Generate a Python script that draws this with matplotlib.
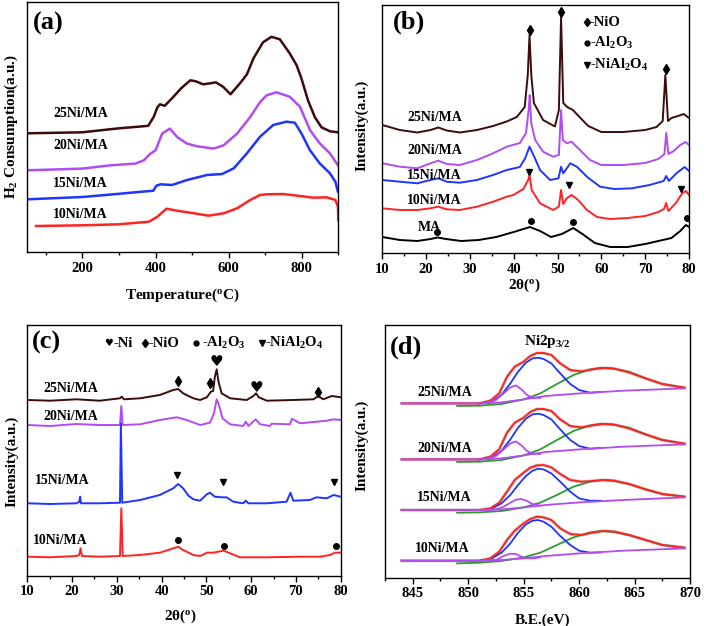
import matplotlib
matplotlib.use("Agg")
import matplotlib.pyplot as plt
from matplotlib.ticker import MultipleLocator

plt.rcParams['font.family'] = ['Liberation Serif', 'DejaVu Sans']
plt.rcParams['font.weight'] = 'bold'
plt.rcParams['axes.labelweight'] = 'bold'
plt.rcParams['mathtext.fontset'] = 'custom'
plt.rcParams['mathtext.rm'] = 'Liberation Serif:bold'
plt.rcParams['mathtext.it'] = 'Liberation Serif:bold'
plt.rcParams['mathtext.bf'] = 'Liberation Serif:bold'
plt.rcParams['mathtext.default'] = 'rm'

BROWN = '#3d0b0b'
PURPLE = '#b04cf2'
BLUE = '#1f35ff'
RED = '#ff2424'
GREEN = '#2e9a2e'

samples = ['25Ni/MA', '20Ni/MA', '15Ni/MA', '10Ni/MA']

# ---------------- (a) H2-TPR ----------------
tpr_25_x = [50, 200, 300, 350, 380, 395, 405, 412, 425, 445, 470, 495, 510, 530, 550, 565, 585, 605, 631, 650,
            668, 694, 717, 740, 767, 786, 799, 817, 836, 854, 877, 899]
tpr_25_y = [119, 120, 124, 125.5, 126.5, 135.5, 145, 148, 146.5, 154, 164, 172, 171, 168, 169, 170, 165.5, 158, 169,
            178, 194, 210, 215.5, 213, 199, 187, 174, 152, 135, 125, 121, 120]
tpr_20_x = [50, 200, 277, 345, 368, 386, 400, 418, 439, 459, 486, 514, 559, 586, 623, 659, 686, 704, 731, 767, 795,
            823, 849, 877, 899]
tpr_20_y = [82, 83.7, 87, 88.7, 92, 98.7, 102, 118.7, 123.7, 115.3, 108.7, 106, 103.7, 107, 118.7, 135.3, 150.3, 157,
            160, 155.6, 145.6, 122, 109, 99, 87]
tpr_15_x = [50, 200, 300, 332, 394, 402, 414, 445, 486, 541, 582, 614, 650, 686, 722, 758, 781, 799, 822, 849, 877,
            892, 899]
tpr_15_y = [53, 55.3, 58.5, 59.6, 61.6, 66.6, 68, 67.3, 72.3, 77.3, 78.3, 84, 99, 115.6, 127.3, 130.6, 129.6, 119,
            102.3, 89, 79, 70.6, 60.6]
tpr_10_x = [73, 200, 300, 382, 405, 430, 459, 505, 545, 586, 623, 659, 686, 704, 749, 795, 831, 868, 892, 899, 900]
tpr_10_y = [26.3, 27, 28, 30.6, 35.6, 43.6, 41.6, 39, 36.6, 39, 44, 52.3, 57.3, 58, 58.3, 56.3, 54.6, 55, 52.3,
            45.6, 32]
tpr_label_y = [139, 107, 69, 38]

# ---------------- (b) XRD calcined ----------------
xb_25 = [10, 14, 18, 21, 22.8, 24.7, 27.7, 31.6, 35.3, 38.4, 40.7, 42.5, 43.2, 43.6, 44.0, 44.6, 46.7, 49.4, 50.3,
         50.8, 51.3, 52.2, 53.5, 55, 57, 60, 65, 70, 72.6, 74.0, 74.6, 75.2, 76, 77.5, 78.8, 80]
yb_25 = [130, 125, 122.5, 125, 127.5, 124.5, 122.5, 125, 129, 133.5, 138, 148, 180, 220, 180, 152, 135, 128.5, 145,
         237.5, 152, 148, 145, 138, 129, 123, 123, 125, 128, 134, 180, 134, 137, 139, 141, 137]
xb_20 = [10, 14, 18, 21, 22.8, 24.7, 27.7, 31.6, 35.3, 38.4, 41.4, 42.8, 43.4, 43.65, 44.0, 44.9, 46.7, 49.0, 50.3,
         50.8, 51.2, 52.1, 53.2, 55.1, 57.4, 60, 65, 70, 73, 74.4, 74.8, 75.3, 76.5, 78, 79.2, 80]
yb_20 = [91.7, 88.3, 86.7, 91.7, 94.3, 91, 90, 95, 101.7, 108.3, 112, 122, 145, 160, 131.7, 115, 103.3, 98.3, 100,
         145, 115, 111.7, 113.3, 105, 95, 90, 90, 92, 96, 101, 122, 101, 104, 110, 113, 110]
xb_15 = [10, 14, 18, 21, 22.8, 24.7, 27.7, 31.6, 35.3, 38.4, 41.4, 42.6, 43.6, 44.5, 46.0, 48.3, 50.2, 50.8, 51.3,
         52.9, 54.4, 56.7, 59.7, 63, 67, 71, 74.2, 74.8, 75.4, 77.2, 79, 80]
yb_15 = [75, 73.3, 71.7, 75, 76.7, 73.3, 72.3, 75, 80, 85, 88, 96.7, 108.3, 100, 85, 75, 76.7, 88.3, 81.7, 91.7,
         88.3, 78.3, 68.3, 66, 66.7, 70, 74, 79, 74, 82, 88, 84]
xb_10 = [10, 14, 18, 21, 22.8, 24.7, 27.7, 31.6, 35.3, 38.4, 39.9, 42.2, 43.3, 43.6, 44.1, 46.0, 49.0, 50.3, 50.8,
         51.3, 52.1, 53.2, 54.7, 56.7, 59, 62, 66, 70, 73, 74.3, 74.8, 75.3, 77, 78.5, 79.3, 80]
yb_10 = [46.7, 45, 45, 46.7, 48.3, 45.7, 45, 48.3, 53.3, 58.3, 60, 66, 75, 80, 65, 51.7, 45, 48.3, 65, 51, 56.7, 60,
         55, 45, 38, 36, 37, 39, 43, 46, 52, 44, 52, 62, 64, 60]
xb_ma = [10, 14, 18, 21, 22.7, 24.5, 28, 32, 36, 40, 43.7, 46, 48.5, 51, 53.6, 56, 58.5, 62, 66, 70, 73, 76, 78,
         79.3, 80]
yb_ma = [18, 15, 14, 16, 17.5, 16, 14, 15, 18, 23, 28, 24, 18, 21, 27, 20, 12, 8, 8, 11, 14, 17, 24, 30, 28]
xrd_b_label_y = [138, 105, 80, 55, 28]
nio_b = ([43.6, 50.8, 74.8], [225, 243.3, 185.7])
spinel_b = ([43.4, 52.6, 78.2], [83.3, 70, 66])
alumina_b = ([22.5, 43.9, 53.5, 79.5], [23, 34.3, 32.7, 36.7])

# ---------------- (c) XRD reduced ----------------
xc_25 = [10, 15.1, 21.0, 26.2, 30.7, 31.1, 31.6, 35.2, 39.6, 42.6, 43.7, 44.8, 46.0, 47.1, 48.6, 50.1, 51.0, 51.5,
         51.9, 52.3, 52.7, 53.4, 55.3, 59.0, 60.5, 61.1, 61.7, 63.5, 69.4, 73.9, 75.0, 76.1, 78.0, 80]
yc_25 = [175.7, 175, 176.4, 175, 177.4, 179, 176.4, 177.4, 180.7, 185.7, 186.7, 182.4, 179.7, 177.4, 175.7, 178.4,
         184, 184.7, 199, 206.4, 194, 182.4, 177.4, 175.7, 179.7, 182.4, 178.4, 175, 175.7, 176.4, 179.7, 176.4,
         179.7, 178.4]
xc_20 = [10, 15.1, 21.0, 26.2, 30.7, 31.0, 31.3, 35.2, 39.6, 43.4, 45.6, 48.6, 50.8, 51.7, 52.3, 52.8, 53.6, 55.3,
         58.2, 58.8, 59.4, 61.0, 62.0, 64.2, 64.6, 68.7, 69.1, 70.9, 76.9, 78.4, 80]
yc_20 = [150.7, 149.7, 151.7, 150.7, 150.7, 169.7, 150.7, 151.4, 155.7, 158.4, 155.7, 150.7, 153, 162.4, 176.4, 170.7,
         157.4, 151.4, 149.7, 154, 149.7, 156.4, 151.4, 149.7, 152, 151.4, 157, 152.4, 155, 156.4, 155.7]
xc_15 = [10, 15.1, 21.0, 21.6, 21.8, 22.0, 26.2, 30.7, 30.9, 31.2, 35.2, 39.6, 42.6, 43.7, 44.8, 46.0, 47.1, 48.6,
         50.1, 50.8, 51.9, 53.4, 54.5, 56.0, 58.2, 58.8, 59.4, 63.5, 67.9, 68.8, 69.4, 73.1, 74.6, 76.9, 78.4, 80]
yc_15 = [72.4, 71.7, 72.4, 74, 79, 72.4, 72.4, 73, 152.4, 73, 75.7, 80.7, 87.4, 91.7, 87.4, 80, 76.4, 75, 81.4, 83,
         79, 78.4, 78.4, 74, 72.4, 75, 72.4, 72.4, 74, 83, 75, 75.7, 78.4, 77.4, 80.7, 79]
xc_10 = [10, 15.1, 21.0, 21.6, 21.9, 22.2, 26.2, 30.7, 31.0, 31.3, 35.2, 39.6, 42.6, 43.7, 44.8, 47.1, 48.6, 50.1,
         51.5, 53.8, 55.3, 57.5, 63.5, 70.9, 75.4, 77.6, 78.7, 80]
yc_10 = [19, 18.4, 19.7, 20.7, 27.4, 19.7, 19, 19.7, 67.4, 19.7, 20.7, 23, 27.4, 29, 25.7, 20.7, 19.7, 23, 23, 25,
         22.4, 18.4, 18.4, 19, 19, 20.7, 23, 23]
xrd_c_label_x = [13.5, 13.5, 11.7, 11.3]
xrd_c_label_y = [186.7, 159.7, 95.7, 35.7]
nio_c = ([43.7, 50.8, 74.9], [195, 193, 184])
ni_c = ([52.3, 61.2], [214, 188.4])
spinel_c = ([43.4, 53.6, 78.4], [100.7, 93.4, 94])
alumina_c = ([43.6, 53.9, 78.9], [35.7, 29.7, 29.7])

# ---------------- (d) XPS Ni2p3/2 ----------------
xs_base = [844, 851, 853, 855, 857, 860, 864, 869.5]
xs_small = [851.5, 852.5, 853.2, 853.8, 854.3, 854.8, 855.3, 855.8, 856.5]
xs_blue = [851, 852, 853, 853.8, 854.5, 855.2, 855.8, 856.3, 856.8, 857.5, 858.3, 859.2, 860, 861, 862]
xs_green = [849, 851, 853, 855, 856.5, 858, 859.5, 861, 862, 863, 864.5, 866, 867.5, 869.5]
xs_env = [844, 851, 852, 852.8, 853.5, 854.2, 855, 855.6, 856.2, 856.8, 857.5, 858.3, 859.2, 860.2, 861.2, 862.2,
          863.2, 864.5, 866, 867.5, 869.5]

xps_base = {
    '25Ni/MA': [174.3, 174.3, 175.3, 178.3, 181.7, 184.3, 187, 189.3],
    '20Ni/MA': [118.3, 118.3, 119.3, 122.3, 125.7, 128.3, 131, 133.3],
    '15Ni/MA': [67.7, 67.7, 68.3, 70.3, 72.7, 75.3, 77.7, 80.3],
    '10Ni/MA': [17, 17, 17.7, 19.3, 21.7, 24.3, 27, 29.3],
}
xps_small = {
    '25Ni/MA': [174.3, 177.7, 184.3, 190.3, 192.3, 188.3, 182.7, 180, 179.7],
    '20Ni/MA': [118.3, 121.7, 128.3, 134.3, 136.3, 132.3, 126.7, 124, 123.7],
    '15Ni/MA': [67.7, 68.3, 71, 75, 78, 78.7, 76.7, 73.7, 72],
    '10Ni/MA': [17, 17.7, 21.7, 24, 23.7, 21, 19.3, 19.3, 20.3],
}
xps_blue = {
    '25Ni/MA': [174.3, 175, 182.7, 194.3, 206, 215, 219.3, 220, 218.7, 214.3, 204.3, 193.7, 187.7, 185, 185.7],
    '20Ni/MA': [118.3, 119, 126.7, 138.3, 150, 159, 163.3, 164, 162.7, 158.3, 148.3, 137.7, 131.7, 129, 129.7],
    '15Ni/MA': [67.7, 68.3, 74.3, 82.7, 92.7, 101.7, 107, 109, 108.3, 104.3, 96, 86, 79.3, 77, 77],
    '10Ni/MA': [17, 18.3, 25, 34.3, 45, 53.3, 57, 57.7, 56, 51, 41.7, 32.7, 27, 25, 25.3],
}
xps_green = {
    '25Ni/MA': [171.7, 172, 173.7, 178.3, 184.3, 193.7, 202.7, 208.3, 210, 209.3, 206, 199.3, 193.7, 190],
    '20Ni/MA': [115.7, 116, 117.7, 122.3, 128.3, 137.7, 146.7, 152.3, 154, 153.3, 150, 143.3, 137.7, 134],
    '15Ni/MA': [65, 65.3, 66.7, 70.3, 75, 82.7, 91, 96, 97.7, 97, 93.7, 88.3, 83.7, 81],
    '10Ni/MA': [14.3, 15, 16.7, 20.3, 25, 32.7, 40.3, 45.3, 46.7, 46, 42.7, 37.7, 32.7, 30],
}
xps_env = {
    '25Ni/MA': [174.3, 174.3, 177, 184.3, 201, 211, 216, 221.7, 224.7, 224.7, 222.7, 214.3, 207.7, 206.3, 208.3,
                209.7, 209, 205.3, 199.3, 193.7, 190],
    '20Ni/MA': [118.3, 118.3, 121, 128.3, 145, 155, 160, 165.7, 168.7, 168.7, 166.7, 158.3, 151.7, 150.3, 152.3,
                153.7, 153, 149.3, 143.3, 137.7, 134],
    '15Ni/MA': [67.7, 67.7, 69.3, 75, 86, 97.7, 105, 110, 112.3, 112.7, 110.3, 103.7, 97.7, 96, 96.7, 97.7, 97,
                93.7, 88.3, 83.7, 81],
    '10Ni/MA': [17, 17, 19.3, 26, 37.7, 47, 54.3, 58.7, 61, 60.3, 57.7, 49.3, 43.7, 42.7, 45, 46.7, 46, 42.7, 37.7,
                32.7, 30],
}
xps_label_x = [845.4, 845.4, 845.4, 845.2]
xps_label_y = [185.7, 129.7, 80.7, 28.7]

W, H = 709, 626
fig = plt.figure(figsize=(W / 100, H / 100), dpi=100)


def box(l, t, r, b):
    return [l / W, 1 - b / H, (r - l) / W, (b - t) / H]


def style(ax, xlim, ylim, major, minor):
    ax.set_xlim(*xlim)
    ax.set_ylim(*ylim)
    ax.set_yticks([])
    ax.xaxis.set_major_locator(MultipleLocator(major))
    ax.xaxis.set_minor_locator(MultipleLocator(minor))
    ax.tick_params(axis='x', which='major', direction='out', length=4, width=1, labelsize=10.5, pad=3)
    ax.tick_params(axis='x', which='minor', direction='out', length=2.5, width=1)
    for lab in ax.get_xticklabels():
        lab.set_fontweight('bold')
    for s in ax.spines.values():
        s.set_linewidth(1)


def labels(ax, xl, yl, xpos, ypos):
    ax.set_xlabel(xl, fontsize=11)
    ax.set_ylabel(yl, fontsize=11)
    ax.xaxis.set_label_coords(*xpos)
    ax.xaxis.label.set_verticalalignment('center')
    ax.yaxis.set_label_coords(*ypos)
    ax.yaxis.label.set_verticalalignment('center')


# (a)
ax = fig.add_axes(box(27.3, 1.7, 338.3, 252.3))
for x, y, c in [(tpr_25_x, tpr_25_y, BROWN), (tpr_20_x, tpr_20_y, PURPLE),
                (tpr_15_x, tpr_15_y, BLUE), (tpr_10_x, tpr_10_y, RED)]:
    ax.plot(x, y, color=c, lw=1.8)
for s, y in zip(samples, tpr_label_y):
    ax.text(120, y, s, fontsize=10, ha='left', va='center')
style(ax, (49, 900), (0, 250.6), 200, 100)
labels(ax, 'Temperature($^{o}$C)', 'H$_2$ Consumption(a.u.)', (0.5, -0.17), (-0.05, 0.5))
ax.text(0.018, 0.915, '(a)', transform=ax.transAxes, fontsize=19, ha='left', va='center')

# (b)
ax = fig.add_axes(box(382.3, 4.7, 689, 253.3))
for x, y, c in [(xb_25, yb_25, BROWN), (xb_20, yb_20, PURPLE), (xb_15, yb_15, BLUE),
                (xb_10, yb_10, RED), (xb_ma, yb_ma, 'black')]:
    ax.plot(x, y, color=c, lw=1.4)
for s, y in zip(samples + ['MA'], xrd_b_label_y):
    ax.text(18.1 if s == 'MA' else 15.7, y, s, fontsize=10, ha='left', va='center')
ax.plot(*nio_b, 'd', color='black', ms=5)
ax.plot(*spinel_b, 'v', color='black', ms=5)
ax.plot(*alumina_b, 'o', color='black', ms=4)
leg_b = [('d', 4.5, 233, '-NiO'), ('o', 3.5, 212, '-Al$_2$O$_3$'), ('v', 5, 190, '-NiAl$_2$O$_4$')]
for m, ms, y, t in leg_b:
    ax.plot([56.7], [y], m, color='black', ms=ms)
    ax.text(57.4, y, t, fontsize=10.5, ha='left', va='center')
style(ax, (10, 80), (1.7, 250.3), 10, 5)
labels(ax, '2θ($^{o}$)', 'Intensity(a.u.)', (0.462, -0.128), (-0.066, 0.516))
ax.text(0.035, 0.93, '(b)', transform=ax.transAxes, fontsize=19, ha='left', va='center')

# (c)
ax = fig.add_axes(box(27.3, 325, 340.7, 575.7))
for x, y, c in [(xc_25, yc_25, BROWN), (xc_20, yc_20, PURPLE), (xc_15, yc_15, BLUE), (xc_10, yc_10, RED)]:
    ax.plot(x, y, color=c, lw=1.4)
for s, x, y in zip(samples, xrd_c_label_x, xrd_c_label_y):
    ax.text(x, y, s, fontsize=10, ha='left', va='center')
ax.plot(*nio_c, 'd', color='black', ms=5)
ax.plot(*spinel_c, 'v', color='black', ms=5)
ax.plot(*alumina_c, 'o', color='black', ms=4)
for x, y in zip(*ni_c):
    ax.text(x, y, '♥', family='DejaVu Sans', fontsize=11, ha='center', va='center')
ax.text(28.2, 232.4, '♥', family='DejaVu Sans', fontsize=7, ha='center', va='center')
ax.text(29.3, 232.4, '-Ni', fontsize=10.5, ha='left', va='center')
ax.plot([36.3], [232.4], 'd', color='black', ms=4.5)
ax.text(37.0, 232.4, '-NiO', fontsize=10.5, ha='left', va='center')
ax.plot([47.7], [232.4], 'o', color='black', ms=3.5)
ax.text(49.0, 232.4, '-Al$_2$O$_3$', fontsize=10.5, ha='left', va='center')
ax.plot([62.4], [232.4], 'v', color='black', ms=5)
ax.text(63.1, 232.4, '-NiAl$_2$O$_4$', fontsize=10.5, ha='left', va='center')
style(ax, (10, 80), (0, 250.7), 10, 5)
labels(ax, '2θ($^{o}$)', 'Intensity(a.u.)', (0.487, -0.164), (-0.049, 0.455))
ax.text(0.015, 0.93, '(c)', transform=ax.transAxes, fontsize=19, ha='left', va='center')

# (d)
ax = fig.add_axes(box(385, 325, 690, 577.7))
for s in samples:
    ax.plot(xs_env, xps_env[s], color='#cfcfcf', lw=2.4)
    ax.plot(xs_green, xps_green[s], color=GREEN, lw=1.3)
    ax.plot(xs_blue, xps_blue[s], color=BLUE, lw=1.3)
    ax.plot(xs_env, xps_env[s], color=RED, lw=1.4)
    ax.plot(xs_small, xps_small[s], color=PURPLE, lw=1.3)
    ax.plot(xs_base, xps_base[s], color=PURPLE, lw=1.3)
for s, x, y in zip(samples, xps_label_x, xps_label_y):
    ax.text(x, y, s, fontsize=10, ha='left', va='center')
ax.text(857.1, 235.7, 'Ni2p$_{3/2}$', fontsize=11, ha='center', va='center')
style(ax, (842.5, 870), (0, 252.7), 5, 2.5)
labels(ax, 'B.E.(eV)', 'Intensity(a.u.)', (0.518, -0.167), (-0.075, 0.525))
ax.text(0.016, 0.91, '(d)', transform=ax.transAxes, fontsize=19, ha='left', va='center')

fig.savefig('out.png', dpi=100)
